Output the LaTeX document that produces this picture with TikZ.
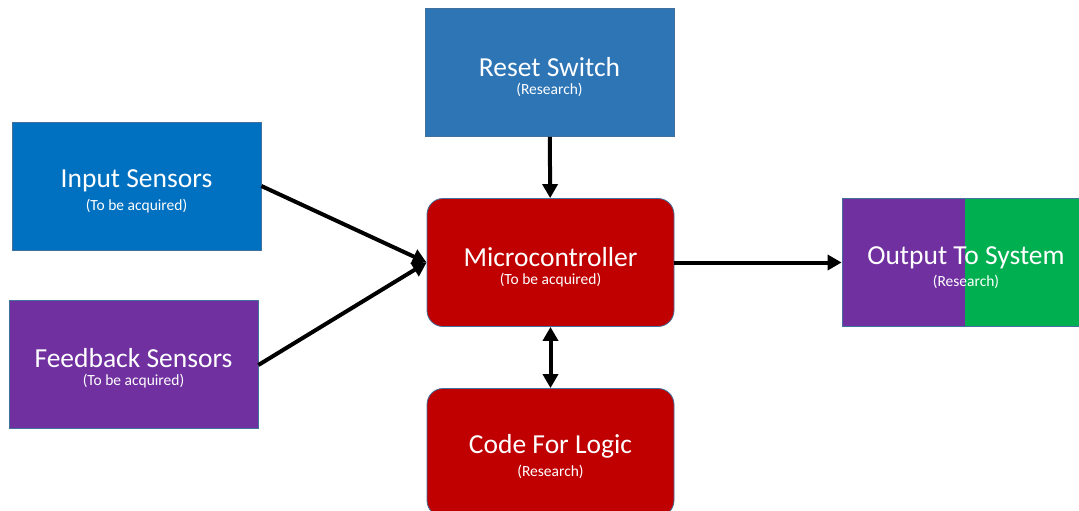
\documentclass[tikz,border=0pt]{standalone}
\usepackage{fontspec}
\setmainfont{Carlito}
\usepackage{tikz}
\usetikzlibrary{arrows.meta,positioning}

\definecolor{resetblue}{HTML}{2E75B6}
\definecolor{inblue}{HTML}{0070C0}
\definecolor{fbpurple}{HTML}{7030A0}
\definecolor{mcred}{HTML}{C00000}
\definecolor{outgreen}{HTML}{00B050}
\definecolor{edgeblue}{HTML}{41719C}

% title plus small status line underneath
\newcommand{\blocktext}[2]{{\fontsize{27.5}{28}\selectfont\rule{0pt}{28pt}#1}\\[6pt]{\fontsize{15.5}{16}\selectfont #2}}

\begin{document}
\begin{tikzpicture}[x=1pt, y=-1pt,
	block/.style={draw=edgeblue, line width=0.8pt, text=white, align=center,
		minimum width=249pt, minimum height=128pt, inner sep=0pt},
	mcblock/.style={block, fill=mcred, rounded corners=16pt, minimum width=247pt},
	link/.style={line width=4pt, -{Triangle[length=14pt,width=15pt]}}]
	\useasboundingbox (0,0) rectangle (1079,511);
	% sources on the left and top
	\node[block, fill=resetblue] (reset) at (549.5,72.5) {\blocktext{Reset Switch}{(Research)}};
	\node[block, fill=inblue] (input) at (136.5,186.5) {\blocktext{Input Sensors}{(To be acquired)}};
	\node[block, fill=fbpurple] (feedback) at (133.5,364) {\blocktext{Feedback Sensors}{(To be acquired)}};
	% controller and its program
	\node[mcblock] (micro) at (550.5,262.5) {\blocktext{Microcontroller}{(To be acquired)}};
	\node[mcblock] (logic) at (550.5,452.5) {\blocktext{Code For Logic}{(Research)}};
	% output, half purple half green
	\node[block, fill=fbpurple, minimum width=248pt,
		path picture={\fill[outgreen] ([xshift=123pt]path picture bounding box.south west)
			rectangle (path picture bounding box.north east);}]
		(output) at (966,262.5) {\blocktext{Output To System}{(Research)}};
	\draw[link] (input.east |- 0,186) -- (micro.west);
	\draw[link] (feedback.east |- 0,365) -- (micro.west);
	\draw[link] (reset) -- (micro);
	\draw[link] (micro) -- (output);
	\draw[link, {Triangle[length=14pt,width=15pt]}-{Triangle[length=14pt,width=15pt]}] (micro) -- (logic);
\end{tikzpicture}
\end{document}
